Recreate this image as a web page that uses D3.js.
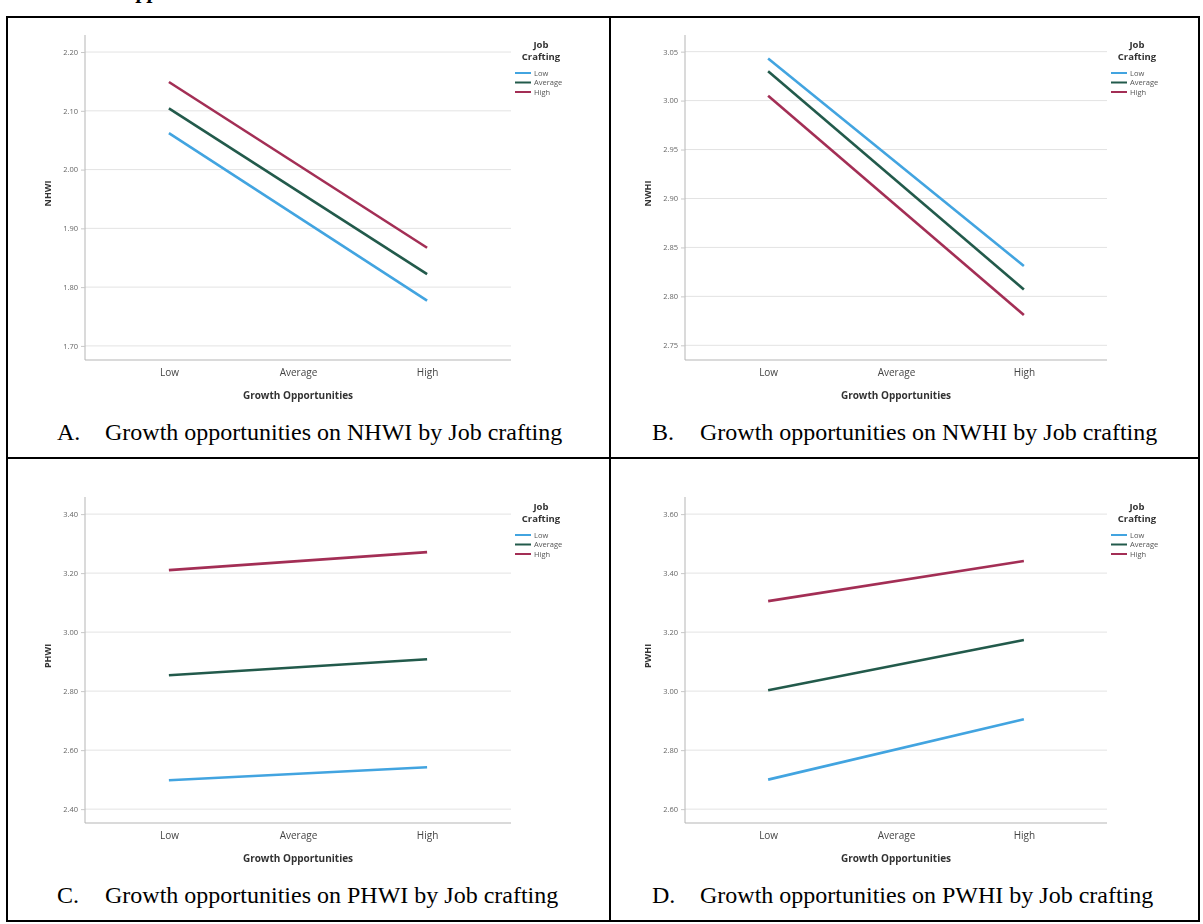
<!DOCTYPE html>
<html>
<head>
<meta charset="utf-8">
<script src="https://cdn.jsdelivr.net/npm/d3@7"></script>
<style>
  body { margin: 0; background: #fff; }
  svg { display: block; }
</style>
</head>
<body>
<svg id="fig" width="1203" height="924"></svg>
<script>
// Categories on the x axis and the moderator groups (Job Crafting)
const categories = ["Low", "Average", "High"];
const lineAt = ["Low", "High"];
const groups = ["Low", "Average", "High"];
const groupColors = ["#42a4e0", "#225a4b", "#a32f55"];

// Panel A: NHWI
const nhwiLow = [2.062, 1.777];
const nhwiAverage = [2.104, 1.822];
const nhwiHigh = [2.149, 1.867];
const nhwiTicks = [1.70, 1.80, 1.90, 2.00, 2.10, 2.20];
const nhwiDomain = [1.676, 2.229];

// Panel B: NWHI
const nwhiLow = [3.043, 2.831];
const nwhiAverage = [3.030, 2.807];
const nwhiHigh = [3.005, 2.781];
const nwhiTicks = [2.75, 2.80, 2.85, 2.90, 2.95, 3.00, 3.05];
const nwhiDomain = [2.735, 3.067];

// Panel C: PHWI
const phwiLow = [2.498, 2.542];
const phwiAverage = [2.854, 2.908];
const phwiHigh = [3.210, 3.271];
const phwiTicks = [2.40, 2.60, 2.80, 3.00, 3.20, 3.40];
const phwiDomain = [2.353, 3.458];

// Panel D: PWHI
const pwhiLow = [2.700, 2.905];
const pwhiAverage = [3.003, 3.173];
const pwhiHigh = [3.305, 3.441];
const pwhiTicks = [2.60, 2.80, 3.00, 3.20, 3.40, 3.60];
const pwhiDomain = [2.553, 3.658];

const captionLetters = ["A.", "B.", "C.", "D."];
const captions = [
  "Growth opportunities on NHWI by Job crafting",
  "Growth opportunities on NWHI by Job crafting",
  "Growth opportunities on PHWI by Job crafting",
  "Growth opportunities on PWHI by Job crafting"
];
const yTitles = ["NHWI", "NWHI", "PHWI", "PWHI"];
const xTitle = "Growth Opportunities";
const legendTitle = ["Job", "Crafting"];

const panels = [
  { series: [nhwiLow, nhwiAverage, nhwiHigh], ticks: nhwiTicks, domain: nhwiDomain,
    x0: 85, x1: 511, yTop: 35, yBot: 360, capX: 57, capY: 440 },
  { series: [nwhiLow, nwhiAverage, nwhiHigh], ticks: nwhiTicks, domain: nwhiDomain,
    x0: 685, x1: 1107, yTop: 35, yBot: 360, capX: 652, capY: 440 },
  { series: [phwiLow, phwiAverage, phwiHigh], ticks: phwiTicks, domain: phwiDomain,
    x0: 85, x1: 511, yTop: 497, yBot: 823, capX: 57, capY: 903 },
  { series: [pwhiLow, pwhiAverage, pwhiHigh], ticks: pwhiTicks, domain: pwhiDomain,
    x0: 685, x1: 1107, yTop: 497, yBot: 823, capX: 652, capY: 903 }
];

const svg = d3.select("#fig");
const sans = "'Open Sans', 'DejaVu Sans', sans-serif";
const serif = "'Liberation Serif', 'Times New Roman', serif";

// soft look of the embedded chart images
const defs = svg.append("defs");
defs.append("filter").attr("id", "soft")
  .append("feGaussianBlur").attr("stdDeviation", 0.35);

// heading text running off the top edge (only its descenders show)
svg.append("text")
  .attr("x", 52).attr("y", -2)
  .attr("font-family", serif).attr("font-style", "italic").attr("font-weight", "bold")
  .attr("font-size", 22).attr("fill", "#000")
  .text("Growth opportunities");

// table frame
const frame = svg.append("g").attr("stroke", "#000").attr("stroke-width", 2).attr("fill", "none");
frame.append("rect").attr("x", 7).attr("y", 17).attr("width", 1192).attr("height", 904);
frame.append("line").attr("x1", 610).attr("x2", 610).attr("y1", 17).attr("y2", 921);
frame.append("line").attr("x1", 7).attr("x2", 1199).attr("y1", 458).attr("y2", 458);

panels.forEach((p, i) => {
  const g = svg.append("g").attr("filter", "url(#soft)");
  const x = d3.scalePoint().domain(categories).range([p.x0, p.x1]).padding(0.65);
  const y = d3.scaleLinear().domain(p.domain).range([p.yBot, p.yTop]);

  // gridlines
  g.append("g").selectAll("line").data(p.ticks).join("line")
    .attr("x1", p.x0).attr("x2", p.x1)
    .attr("y1", d => y(d)).attr("y2", d => y(d))
    .attr("stroke", "#e3e3e3").attr("stroke-width", 1);

  // y axis
  const yAxis = g.append("g").attr("transform", `translate(${p.x0},0)`)
    .call(d3.axisLeft(y).tickValues(p.ticks).tickFormat(d3.format(".2f")).tickSize(4).tickPadding(3));
  yAxis.select(".domain").attr("stroke", "#b5b5b5").attr("d", `M0,${p.yTop}V${p.yBot}`);
  yAxis.selectAll(".tick line").attr("stroke", "#c8c8c8");
  yAxis.selectAll(".tick text").attr("font-family", sans).attr("font-size", 7.5).attr("fill", "#666");

  // x axis
  const xAxis = g.append("g").attr("transform", `translate(0,${p.yBot})`)
    .call(d3.axisBottom(x).tickSize(0).tickPadding(9));
  xAxis.select(".domain").attr("stroke", "#b5b5b5").attr("d", `M${p.x0},0H${p.x1}`);
  xAxis.selectAll(".tick text").attr("font-family", sans).attr("font-size", 10).attr("fill", "#444");

  // axis titles
  g.append("text")
    .attr("x", (p.x0 + p.x1) / 2).attr("y", p.yBot + 39)
    .attr("text-anchor", "middle").attr("font-family", sans).attr("font-weight", "bold")
    .attr("font-size", 10).attr("fill", "#333").text(xTitle);
  g.append("text")
    .attr("transform", `translate(${p.x0 - 34},${(p.yTop + p.yBot) / 2 - 4}) rotate(-90)`)
    .attr("text-anchor", "middle").attr("font-family", sans).attr("font-weight", "bold")
    .attr("font-size", 9).attr("fill", "#333").text(yTitles[i]);

  // lines for each Job Crafting level
  const line = d3.line().x((d, k) => x(lineAt[k])).y(d => y(d));
  g.append("g").selectAll("path").data(p.series).join("path")
    .attr("d", d => line(d))
    .attr("fill", "none")
    .attr("stroke", (d, k) => groupColors[k])
    .attr("stroke-width", 2.6)
    .attr("stroke-linecap", "butt");

  // legend
  const lx = p.x1 + 4;
  const lg = g.append("g").attr("font-family", sans);
  lg.selectAll("text.title").data(legendTitle).join("text")
    .attr("class", "title")
    .attr("x", lx + 26).attr("y", (d, k) => p.yTop + 13 + k * 12)
    .attr("text-anchor", "middle").attr("font-weight", "bold").attr("font-size", 9.5)
    .attr("fill", "#333").text(d => d);
  const item = lg.selectAll("g.item").data(groups).join("g")
    .attr("class", "item")
    .attr("transform", (d, k) => `translate(${lx},${p.yTop + 38 + k * 9.5})`);
  item.append("line").attr("x1", 0).attr("x2", 16).attr("y1", 0).attr("y2", 0)
    .attr("stroke", (d, k) => groupColors[k]).attr("stroke-width", 2);
  item.append("text").attr("x", 19).attr("y", 2.6)
    .attr("font-size", 7.5).attr("fill", "#555").text(d => d);

  // caption under each chart
  const cap = svg.append("g").attr("font-family", serif).attr("font-size", 24).attr("fill", "#000");
  cap.append("text").attr("x", p.capX).attr("y", p.capY).text(captionLetters[i]);
  cap.append("text").attr("x", p.capX + 48).attr("y", p.capY).text(captions[i]);
});
</script>
</body>
</html>
